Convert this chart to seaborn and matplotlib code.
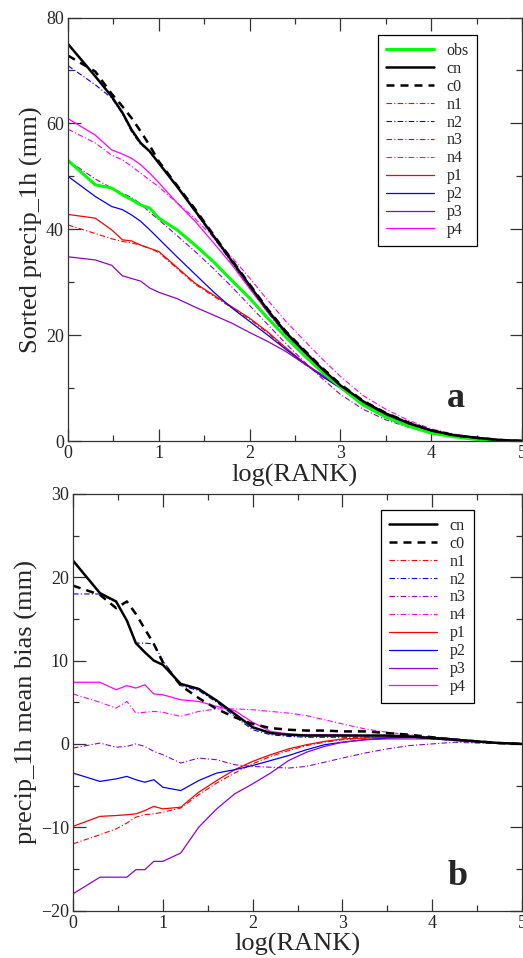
import numpy as np
import pandas as pd
import matplotlib
matplotlib.use("Agg")
import matplotlib.pyplot as plt
import seaborn as sns
from matplotlib.ticker import MultipleLocator

# log(RANK) positions where values were read
log_rank = [0, 0.3, 0.48, 0.6, 0.7, 0.8, 0.9, 1.0, 1.2, 1.4, 1.6, 1.8, 2.0,
            2.2, 2.4, 2.6, 2.8, 3.0, 3.25, 3.5, 3.75, 4.0, 4.25, 4.5, 4.75, 5.0]

# ---- panel a: sorted precip_1h (mm)
a_obs = [53.0, 48.4, 47.8, 46.5, 45.6, 44.6, 44.0, 42.1, 39.9, 37.0, 33.9, 30.4, 27.0,
         23.2, 19.6, 16.2, 13.0, 10.2, 6.8, 4.5, 2.8, 1.5, 0.8, 0.3, 0.1, 0.0]
a_cn = [75.0, 68.9, 65.1, 62.0, 58.8, 56.3, 54.7, 52.5, 48.1, 43.5, 38.8, 34.1, 29.4,
        24.7, 20.5, 17.0, 13.6, 10.5, 7.5, 5.2, 3.4, 2.0, 1.1, 0.6, 0.2, 0.0]
a_c0 = [72.8, 69.8, 65.6, 63.2, 61.0, 58.5, 55.8, 52.8, 48.3, 43.8, 39.0, 34.3, 29.6,
        24.9, 20.7, 17.2, 13.8, 10.7, 7.6, 5.3, 3.5, 2.0, 1.1, 0.6, 0.2, 0.0]
a_n1 = [40.8, 39.2, 38.2, 37.7, 37.4, 37.0, 36.4, 35.6, 32.6, 29.6, 27.4, 25.2, 23.0,
        20.4, 17.4, 14.6, 12.2, 10.0, 7.0, 4.7, 3.0, 1.7, 0.9, 0.4, 0.1, 0.0]
a_n2 = [70.9, 67.3, 64.8, 61.8, 58.4, 56.0, 54.8, 52.4, 48.0, 43.3, 38.5, 33.8, 29.0,
        24.3, 20.0, 16.5, 13.0, 10.2, 7.2, 5.0, 3.2, 1.9, 1.0, 0.5, 0.2, 0.0]
a_n3 = [53.0, 49.5, 47.8, 46.8, 46.0, 44.8, 43.2, 41.8, 38.8, 35.8, 32.6, 29.2, 25.6,
        22.0, 18.4, 15.0, 11.8, 8.8, 6.0, 4.0, 2.6, 1.5, 0.8, 0.4, 0.1, 0.0]
a_n4 = [58.9, 56.3, 54.0, 53.1, 51.9, 50.6, 49.3, 48.0, 45.0, 42.0, 38.5, 34.8, 30.8,
        26.6, 22.6, 19.0, 15.5, 12.2, 8.6, 6.0, 3.9, 2.3, 1.3, 0.7, 0.3, 0.0]
a_p1 = [42.8, 42.1, 39.9, 38.0, 37.8, 37.0, 36.4, 35.8, 32.8, 29.8, 27.6, 25.4, 23.2,
        20.6, 17.6, 14.8, 12.4, 10.2, 7.1, 4.8, 3.0, 1.7, 0.9, 0.4, 0.1, 0.0]
a_p2 = [50.0, 46.2, 44.3, 43.7, 42.7, 41.5, 39.9, 38.2, 34.8, 31.5, 28.2, 25.2, 22.6,
        20.0, 17.3, 14.7, 12.2, 10.0, 7.0, 4.7, 3.0, 1.7, 0.9, 0.4, 0.1, 0.0]
a_p3 = [34.8, 34.2, 33.2, 31.2, 30.7, 30.2, 28.9, 28.1, 26.9, 25.3, 23.8, 22.3, 20.5,
        18.8, 16.9, 14.6, 12.5, 10.2, 7.0, 4.7, 3.0, 1.7, 0.9, 0.4, 0.1, 0.0]
a_p4 = [60.9, 57.8, 55.0, 54.2, 53.4, 52.2, 50.6, 48.8, 45.0, 41.5, 37.5, 33.4, 28.8,
        24.3, 20.2, 16.7, 13.4, 10.4, 7.5, 5.2, 3.4, 2.0, 1.1, 0.6, 0.2, 0.0]

# ---- panel b: precip_1h mean bias (mm)
b_cn = [22.0, 18.1, 17.1, 14.8, 12.1, 11.0, 10.0, 9.5, 7.2, 6.6, 5.2, 3.6, 2.0,
        1.3, 1.1, 1.0, 1.0, 1.0, 1.0, 1.0, 0.9, 0.7, 0.5, 0.3, 0.1, 0.0]
b_c0 = [19.0, 17.9, 16.3, 17.1, 15.6, 13.8, 12.0, 9.8, 7.0, 5.5, 4.2, 3.2, 2.4,
        1.9, 1.7, 1.6, 1.6, 1.5, 1.5, 1.3, 1.1, 0.8, 0.5, 0.3, 0.1, 0.0]
b_n1 = [-12.0, -10.9, -10.2, -9.5, -8.8, -8.5, -8.4, -8.2, -7.7, -6.1, -4.7, -3.5, -2.4,
        -1.5, -0.8, -0.2, 0.2, 0.5, 0.7, 0.8, 0.8, 0.7, 0.5, 0.3, 0.1, 0.0]
b_n2 = [18.0, 18.0, 17.0, 14.8, 12.1, 12.1, 12.0, 10.0, 7.0, 6.4, 5.0, 3.3, 1.7,
        1.1, 0.9, 0.8, 0.8, 0.8, 0.8, 0.8, 0.8, 0.6, 0.4, 0.2, 0.1, 0.0]
b_n3 = [-0.5, 0.1, -0.4, -0.3, 0.0, -0.3, -0.9, -1.3, -2.3, -1.7, -1.9, -2.5, -2.7,
        -2.8, -2.9, -2.7, -2.2, -1.7, -1.1, -0.6, -0.2, 0.0, 0.2, 0.1, 0.05, 0.0]
b_n4 = [6.0, 5.0, 4.3, 5.1, 3.7, 3.8, 3.9, 3.8, 3.3, 3.9, 4.2, 4.2, 4.1,
        3.9, 3.7, 3.4, 2.9, 2.4, 1.8, 1.4, 1.1, 0.8, 0.5, 0.3, 0.1, 0.0]
b_p1 = [-9.9, -8.7, -8.6, -8.5, -8.4, -8.0, -7.5, -7.8, -7.6, -5.8, -4.4, -3.1, -2.1,
        -1.3, -0.6, -0.1, 0.3, 0.6, 0.7, 0.8, 0.8, 0.7, 0.5, 0.3, 0.1, 0.0]
b_p2 = [-3.5, -4.5, -4.2, -3.9, -4.3, -4.6, -4.3, -5.2, -5.6, -4.4, -3.5, -3.1, -2.6,
        -2.0, -1.4, -0.7, -0.1, 0.2, 0.5, 0.7, 0.8, 0.8, 0.6, 0.3, 0.1, 0.0]
b_p3 = [-18.0, -16.0, -16.0, -16.0, -15.1, -15.1, -14.1, -14.1, -13.1, -10.0, -7.8, -6.0, -4.8,
        -3.5, -2.0, -1.0, -0.3, 0.2, 0.5, 0.6, 0.6, 0.6, 0.5, 0.3, 0.1, 0.0]
b_p4 = [7.4, 7.4, 6.5, 7.0, 6.7, 7.1, 6.0, 5.9, 5.3, 5.1, 4.5, 4.0, 2.6,
        1.5, 1.2, 1.1, 1.1, 1.1, 1.0, 1.0, 0.9, 0.7, 0.5, 0.3, 0.1, 0.0]

# line styles per run (xmgrace-like colours)
dashdot = (0, (5, 2, 1, 2))
styles = {
    'obs': dict(color='#00ff00', lw=2.2, ls='-'),
    'cn':  dict(color='black', lw=1.8, ls='-'),
    'c0':  dict(color='black', lw=1.8, ls=(0, (3.2, 2.4))),
    'n1':  dict(color='#ff0000', lw=0.8, ls=dashdot),
    'n2':  dict(color='#0000ff', lw=0.8, ls=dashdot),
    'n3':  dict(color='#9400d3', lw=0.8, ls=dashdot),
    'n4':  dict(color='#ff00ff', lw=0.8, ls=dashdot),
    'p1':  dict(color='#ff0000', lw=0.9, ls='-'),
    'p2':  dict(color='#0000ff', lw=0.9, ls='-'),
    'p3':  dict(color='#9400d3', lw=0.9, ls='-'),
    'p4':  dict(color='#ff00ff', lw=0.9, ls='-'),
}

panel_a = {'obs': a_obs, 'cn': a_cn, 'c0': a_c0, 'n1': a_n1, 'n2': a_n2, 'n3': a_n3,
           'n4': a_n4, 'p1': a_p1, 'p2': a_p2, 'p3': a_p3, 'p4': a_p4}
panel_b = {'cn': b_cn, 'c0': b_c0, 'n1': b_n1, 'n2': b_n2, 'n3': b_n3,
           'n4': b_n4, 'p1': b_p1, 'p2': b_p2, 'p3': b_p3, 'p4': b_p4}

sns.set_style('ticks')
plt.rcParams['font.family'] = ['Liberation Serif', 'DejaVu Serif']

W, H = 523, 958
fig = plt.figure(figsize=(W / 100, H / 100), dpi=100)
ax1 = fig.add_axes([68 / W, 517 / H, 454 / W, 423.5 / H])
ax2 = fig.add_axes([73 / W, 47.5 / H, 449 / W, 416.5 / H])


def draw_panel(ax, series, order):
    # draw the sensitivity runs first, then the reference curves on top
    for name in order:
        st = styles[name]
        sns.lineplot(x=log_rank, y=series[name], ax=ax, color=st['color'],
                     linewidth=st['lw'], linestyle=st['ls'], label=name,
                     estimator=None, sort=False)
    h, l = ax.get_legend_handles_labels()
    keep = [k for k in styles if k in series]
    handles = [h[l.index(k)] for k in keep]
    return handles, keep


order_a = ['n1', 'n2', 'n3', 'n4', 'p1', 'p2', 'p3', 'p4', 'obs', 'c0', 'cn']
order_b = ['n1', 'n2', 'n3', 'n4', 'p1', 'p2', 'p3', 'p4', 'c0', 'cn']
ha, la = draw_panel(ax1, panel_a, order_a)
hb, lb = draw_panel(ax2, panel_b, order_b)

for ax in (ax1, ax2):
    ax.set_xlim(0, 5)
    ax.xaxis.set_major_locator(MultipleLocator(1))
    ax.xaxis.set_minor_locator(MultipleLocator(0.5))
    ax.tick_params(which='both', direction='in', top=True, right=True,
                   labelsize=13, color='#333333')
    ax.tick_params(which='major', length=9, width=0.9, pad=3)
    ax.tick_params(which='minor', length=4.5, width=0.9)
    for sp in ax.spines.values():
        sp.set_linewidth(0.9)
        sp.set_color('#333333')
    ax.set_xlabel('log(RANK)', fontsize=19, labelpad=1)

ax1.set_ylim(0, 80)
ax1.yaxis.set_major_locator(MultipleLocator(20))
ax1.yaxis.set_minor_locator(MultipleLocator(10))
ax1.set_ylabel('Sorted precip_1h (mm)', fontsize=19, labelpad=2)

ax2.set_ylim(-20, 30)
ax2.yaxis.set_major_locator(MultipleLocator(10))
ax2.yaxis.set_minor_locator(MultipleLocator(5))
ax2.set_ylabel('precip_1h mean bias (mm)', fontsize=19, labelpad=2)

leg_kw = dict(loc='upper left', fontsize=11.5, frameon=True, fancybox=False,
              edgecolor='black', framealpha=1, handlelength=3.0,
              handletextpad=0.8, labelspacing=0.12, borderpad=0.5,
              borderaxespad=0)
lg1 = ax1.legend(ha, la, bbox_to_anchor=(0.683, 0.959), **leg_kw)
lg2 = ax2.legend(hb, lb, bbox_to_anchor=(0.686, 0.962), **leg_kw)
for lg in (lg1, lg2):
    lg.get_frame().set_linewidth(0.9)

ax1.text(0.854, 0.081, 'a', transform=ax1.transAxes, fontsize=26,
         fontweight='bold', ha='center', va='baseline')
ax2.text(0.857, 0.061, 'b', transform=ax2.transAxes, fontsize=26,
         fontweight='bold', ha='center', va='baseline')

fig.savefig('out.png', dpi=100)
